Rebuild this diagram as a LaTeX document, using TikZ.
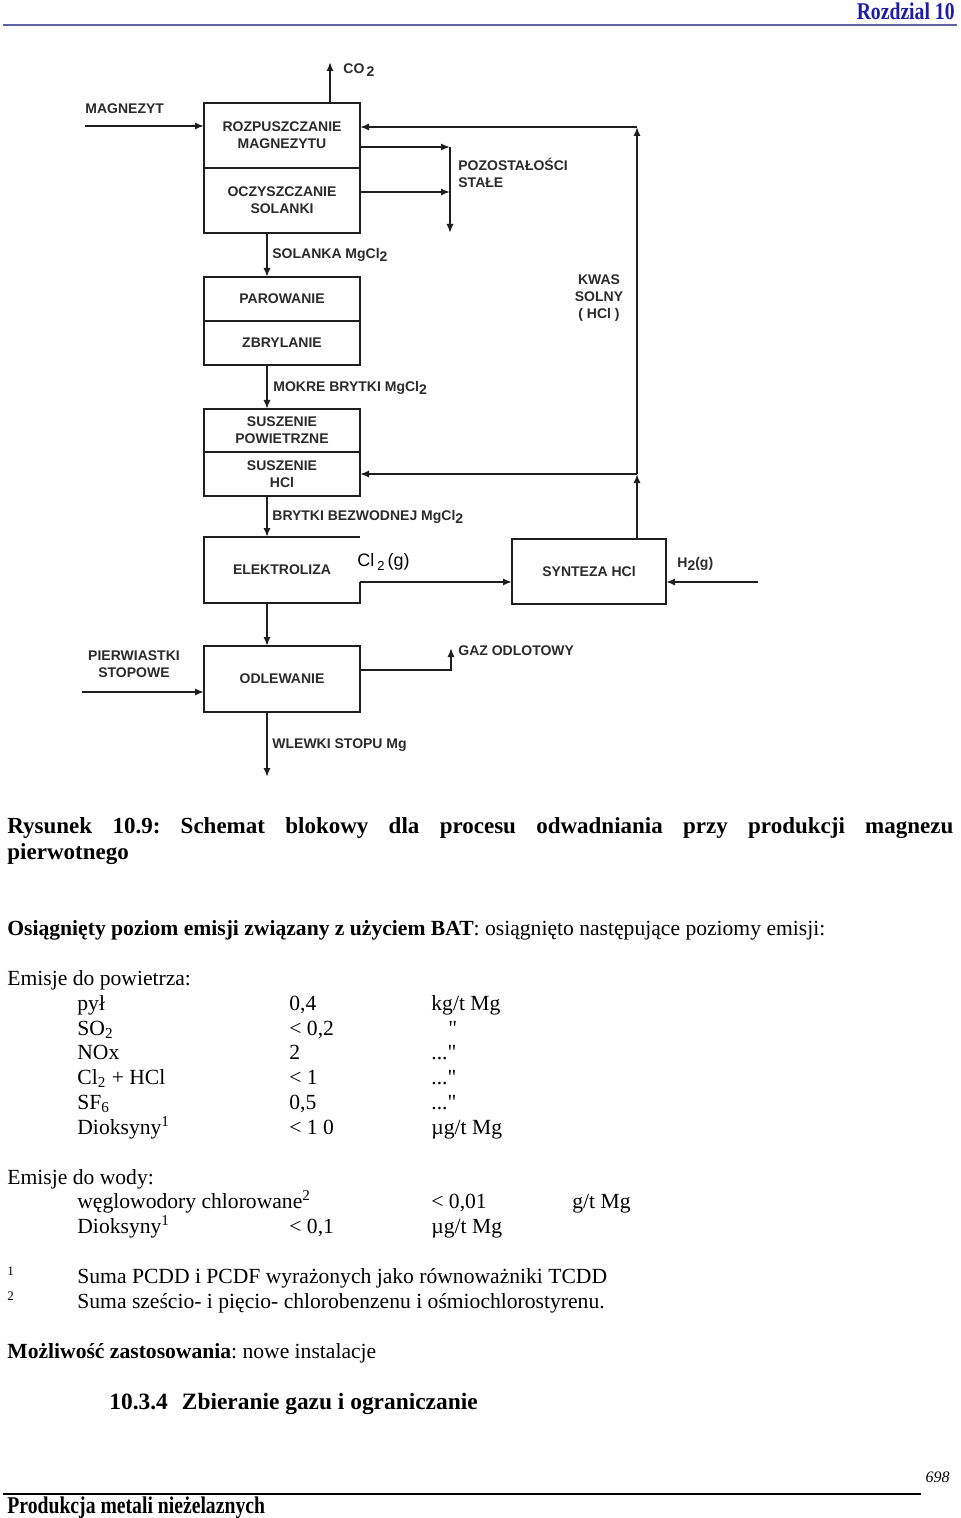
\documentclass[tikz,border=0pt]{standalone}
\usepackage{fontspec}
\setmainfont{Liberation Serif}
\newfontfamily\bodyfont{Liberation Serif}
\newfontfamily\condfont[FakeStretch=0.82]{Liberation Serif}
\newfontfamily\diagfont{Liberation Sans}
\usepackage{tikz}
\usetikzlibrary{calc,positioning,arrows.meta}
\definecolor{flowline}{HTML}{1E1E1E}
\definecolor{flowtext}{HTML}{2B2B2B}
\definecolor{headblue}{HTML}{1C1CA8}
\definecolor{headrule}{HTML}{6262A6}
\newcommand{\dsub}[1]{\raisebox{-0.5ex}{#1}}
\frenchspacing

\begin{document}
\begin{tikzpicture}[x=0.5pt, y=-0.5pt,
      half/.style={draw=flowline, line width=1.4pt, outer sep=0pt,
                   minimum width=78pt, align=center, text=flowtext,
                   font=\diagfont\bfseries\fontsize{7}{8.5}\selectfont},
      lab/.style={anchor=west, inner sep=0pt, align=left, text=flowtext,
                  font=\diagfont\bfseries\fontsize{7}{8.5}\selectfont},
      arr/.style={-{Latex[length=4.5pt, width=3.6pt]}, line width=0.9pt, color=flowline},
      body/.style={anchor=base west, inner sep=0pt,
                   font=\bodyfont\fontsize{10.8}{13}\selectfont},
      bodyb/.style={body, font=\bodyfont\bfseries\fontsize{11.5}{13}\selectfont}]

    \fill[white] (0,0) rectangle (960,1518);
    \useasboundingbox (0,0) rectangle (960,1518);

    % page head
    \node[anchor=base east, inner sep=0pt, text=headblue,
          font=\condfont\bfseries\fontsize{12}{14}\selectfont] (chap) at (955,20) {Rozdzial 10};
    \draw[headrule, line width=1pt] (3,25) -- (957,25);

    % process blocks
    \node[half, minimum height=32.5pt] (rozp) at (282,135.5) {ROZPUSZCZANIE\\MAGNEZYTU};
    \node[half, minimum height=32.5pt] (oczy) at (282,200.5) {OCZYSZCZANIE\\SOLANKI};
    \node[half, minimum height=22pt] (parow) at (282,299) {PAROWANIE};
    \node[half, minimum height=22pt] (zbryl) at (282,343) {ZBRYLANIE};
    \node[half, minimum height=21.5pt] (suszp) at (282,430.5) {SUSZENIE\\POWIETRZNE};
    \node[half, minimum height=22pt] (suszh) at (282,474) {SUSZENIE\\HCl};
    \node[half, draw=none, minimum height=33pt] (elek) at (282,570) {ELEKTROLIZA};
    \node[half, minimum width=77pt, minimum height=32.5pt] (synt) at (589,571.5) {SYNTEZA HCl};
    \node[half, minimum height=33pt] (odlew) at (282,679) {ODLEWANIE};

    \coordinate (spine) at (267,0);
    \coordinate (co2) at (330,62);
    \coordinate (magin) at (85,126);
    \coordinate (hcltop) at (637,127);
    \coordinate (hclmid) at (637,474);
    \coordinate (poz) at (450,147);
    \coordinate (poz2) at (450,192);
    \coordinate (pozend) at (450,233);
    \coordinate (clout) at (360,582);
    \coordinate (h2in) at (758,582);
    \coordinate (pierin) at (82,692);
    \coordinate (gazturn) at (451,670);
    \coordinate (gaz) at (451,648);
    \coordinate (wlout) at (267,777);

    % electrolysis cell, open at the top right
    \draw[flowline, line width=1.4pt] (elek.east |- clout) -- (elek.south east)
      -- (elek.south west) -- (elek.north west) -- (elek.north east);

    % flows
    \draw[arr] (co2 |- rozp.north) -- (co2);
    \draw[arr] (magin) -- (magin -| rozp.west);
    \draw[arr] (rozp.east |- poz) -- (poz);
    \draw[arr] (oczy.east |- poz2) -- (poz2);
    \draw[arr] (poz) -- (pozend);
    \draw[arr] (oczy.south -| spine) -- (parow.north -| spine);
    \draw[arr] (zbryl.south -| spine) -- (suszp.north -| spine);
    \draw[arr] (suszh.south -| spine) -- (elek.north -| spine);
    \draw[arr] (elek.south -| spine) -- (odlew.north -| spine);
    \draw[arr] (odlew.south -| spine) -- (wlout);
    \draw[arr] (elek.east |- clout) -- (clout -| synt.west);
    \draw[arr] (h2in) -- (h2in -| synt.east);
    \draw[arr] (synt.north -| hclmid) -- (hclmid);
    \draw[arr] (hclmid) -- (hcltop);
    \draw[arr] (hcltop) -- (hcltop -| rozp.east);
    \draw[arr] (hclmid) -- (suszh.east |- hclmid);
    \draw[arr] (pierin) -- (pierin -| odlew.west);
    \draw[arr] (odlew.east |- gazturn) -- (gazturn) -- (gaz);

    % stream labels
    \node[lab] (co2lab) at (343,70) {CO\,\dsub{2}};
    \node[lab] (maglab) at (85,109) {MAGNEZYT};
    \node[lab] (pozlab) at (458,173) {POZOSTAŁOŚCI\\STAŁE};
    \node[lab] (sollab) at (272,255) {SOLANKA MgCl\dsub{2}};
    \node[lab, anchor=center, align=center] (kwaslab) at (599,298) {KWAS\\SOLNY\\( HCl )};
    \node[lab] (moklab) at (273,388) {MOKRE BRYTKI MgCl\dsub{2}};
    \node[lab] (brylab) at (272,517) {BRYTKI BEZWODNEJ MgCl\dsub{2}};
    \node[anchor=west, inner sep=0pt, font=\diagfont\fontsize{9}{10}\selectfont]
      (cl2lab) at (357,562) {Cl\,\raisebox{-0.4ex}{\fontsize{6.5}{7}\selectfont 2}\,(g)};
    \node[lab] (h2lab) at (677,564) {H\dsub{2}(g)};
    \node[lab, anchor=center, align=center] (pierlab) at (134,664) {PIERWIASTKI\\STOPOWE};
    \node[lab] (gazlab) at (458,651) {GAZ ODLOTOWY};
    \node[lab] (wlelab) at (272,745) {WLEWKI STOPU Mg};

    % text below the figure
    \node[bodyb] (cap1) at (7,833)
      {\makebox[473pt][s]{Rysunek 10.9: Schemat blokowy dla procesu odwadniania przy produkcji magnezu}};
    \node[bodyb] (cap2) at (7,859) {pierwotnego};
    \node[body] (bat) at (7,935)
      {\textbf{Osiągnięty poziom emisji związany z użyciem BAT}: osiągnięto następujące poziomy emisji:};

    \node[body] (air) at (7,985) {Emisje do powietrza:};
    \foreach \yy/\nam/\val/\ux/\unit [count=\i] in {
        1010/pył/{0,4}/431/{kg/t Mg},
        1035/SO\textsubscript{2}/{< 0,2}/448/{"},
        1059/NOx/2/431/{..."},
        1084/Cl\textsubscript{2} + HCl/{< 1}/431/{..."},
        1109/SF\textsubscript{6}/{0,5}/431/{..."},
        1134/Dioksyny\textsuperscript{1}/{< 1 0}/431/{µg/t Mg}}
    {
      \node[body] (airn\i) at (77,\yy) {\nam};
      \node[body] (airv\i) at (289,\yy) {\val};
      \node[body] (airu\i) at (\ux,\yy) {\unit};
    }

    \node[body] (water) at (7,1184) {Emisje do wody:};
    \node[body] (watn1) at (77,1208) {węglowodory chlorowane\textsuperscript{2}};
    \node[body] (watv1) at (431,1208) {< 0,01};
    \node[body] (watu1) at (572,1208) {g/t Mg};
    \node[body] (watn2) at (77,1233) {Dioksyny\textsuperscript{1}};
    \node[body] (watv2) at (289,1233) {< 0,1};
    \node[body] (watu2) at (431,1233) {µg/t Mg};

    \node[body, font=\bodyfont\fontsize{6.5}{8}\selectfont] (fn1) at (7,1275) {1};
    \node[body, font=\bodyfont\fontsize{6.5}{8}\selectfont] (fn2) at (7,1300) {2};
    \node[body] (fnt1) at (77,1283) {Suma PCDD i PCDF wyrażonych jako równoważniki TCDD};
    \node[body] (fnt2) at (77,1308) {Suma sześcio- i pięcio- chlorobenzenu i ośmiochlorostyrenu.};

    \node[body] (zast) at (7,1358) {\textbf{Możliwość zastosowania}: nowe instalacje};
    \node[bodyb, font=\bodyfont\bfseries\fontsize{11.7}{13}\selectfont] (sect) at (109,1409)
      {10.3.4\hspace{0.6em}Zbieranie gazu i ograniczanie};

    % page foot
    \node[anchor=base east, inner sep=0pt, font=\bodyfont\itshape\fontsize{8}{10}\selectfont]
      (pageno) at (950,1482) {698};
    \draw[black, line width=1pt] (3,1494) -- (921,1494);
    \node[anchor=base west, inner sep=0pt,
          font=\condfont\bfseries\fontsize{12}{14}\selectfont] (foot) at (7,1513) {Produkcja metali nieżelaznych};
  \end{tikzpicture}
\end{document}
